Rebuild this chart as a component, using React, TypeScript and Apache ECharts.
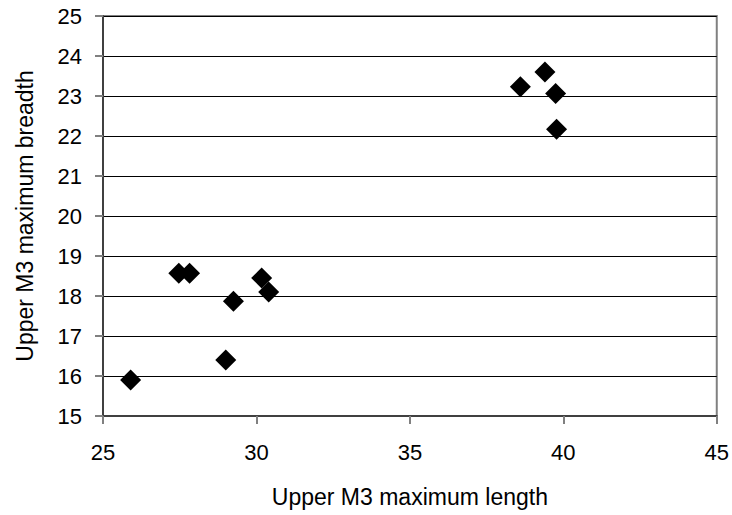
import React, { useEffect, useRef } from "react";
import * as echarts from "echarts";

const lengths = [25.9, 27.47, 27.82, 29.25, 29.0, 30.17, 30.4, 38.6, 39.4, 39.75, 39.78];
const breadths = [15.9, 18.57, 18.57, 17.87, 16.4, 18.45, 18.1, 23.23, 23.6, 23.06, 22.17];
const xTitle = "Upper M3 maximum length";
const yTitle = "Upper M3 maximum breadth";

const FONT = "Liberation Sans";

export default function App() {
  const ref = useRef<HTMLDivElement>(null);
  useEffect(() => {
    if (!ref.current) return;
    const chart = echarts.init(ref.current, null, { renderer: "svg" });
    const data = lengths.map((x, i) => [x, breadths[i]]);
    chart.setOption({
      animation: false,
      backgroundColor: "#ffffff",
      grid: {
        left: 103,
        right: 14,
        top: 16,
        bottom: 99,
        show: true,
        borderColor: "#808080",
        borderWidth: 2,
        backgroundColor: "transparent",
      },
      xAxis: {
        type: "value",
        min: 25,
        max: 45,
        interval: 5,
        name: xTitle,
        nameLocation: "middle",
        nameGap: 69,
        nameTextStyle: { fontFamily: FONT, fontSize: 23, color: "#000" },
        axisLine: { show: true, lineStyle: { color: "#404040", width: 2 } },
        axisTick: { show: true, inside: false, length: 8, lineStyle: { color: "#808080", width: 2 } },
        axisLabel: { margin: 25, fontFamily: FONT, fontSize: 22, color: "#000" },
        splitLine: { show: false },
      },
      yAxis: {
        type: "value",
        min: 15,
        max: 25,
        interval: 1,
        name: yTitle,
        nameLocation: "middle",
        nameGap: 67,
        nameTextStyle: { fontFamily: FONT, fontSize: 23, color: "#000" },
        axisLine: { show: true, lineStyle: { color: "#404040", width: 2 } },
        axisTick: { show: true, inside: false, length: 8, lineStyle: { color: "#808080", width: 2 } },
        axisLabel: { margin: 21, fontFamily: FONT, fontSize: 22, color: "#000" },
        splitLine: { show: true, lineStyle: { color: "#000000", width: 1 } },
      },
      series: [
        {
          type: "scatter",
          data,
          symbol: "diamond",
          symbolSize: 21,
          itemStyle: { color: "#000000", opacity: 1 },
        },
      ],
    });
    return () => chart.dispose();
  }, []);
  return <div ref={ref} style={{ width: 732, height: 515, position: "absolute", left: 0, top: 0 }} />;
}
